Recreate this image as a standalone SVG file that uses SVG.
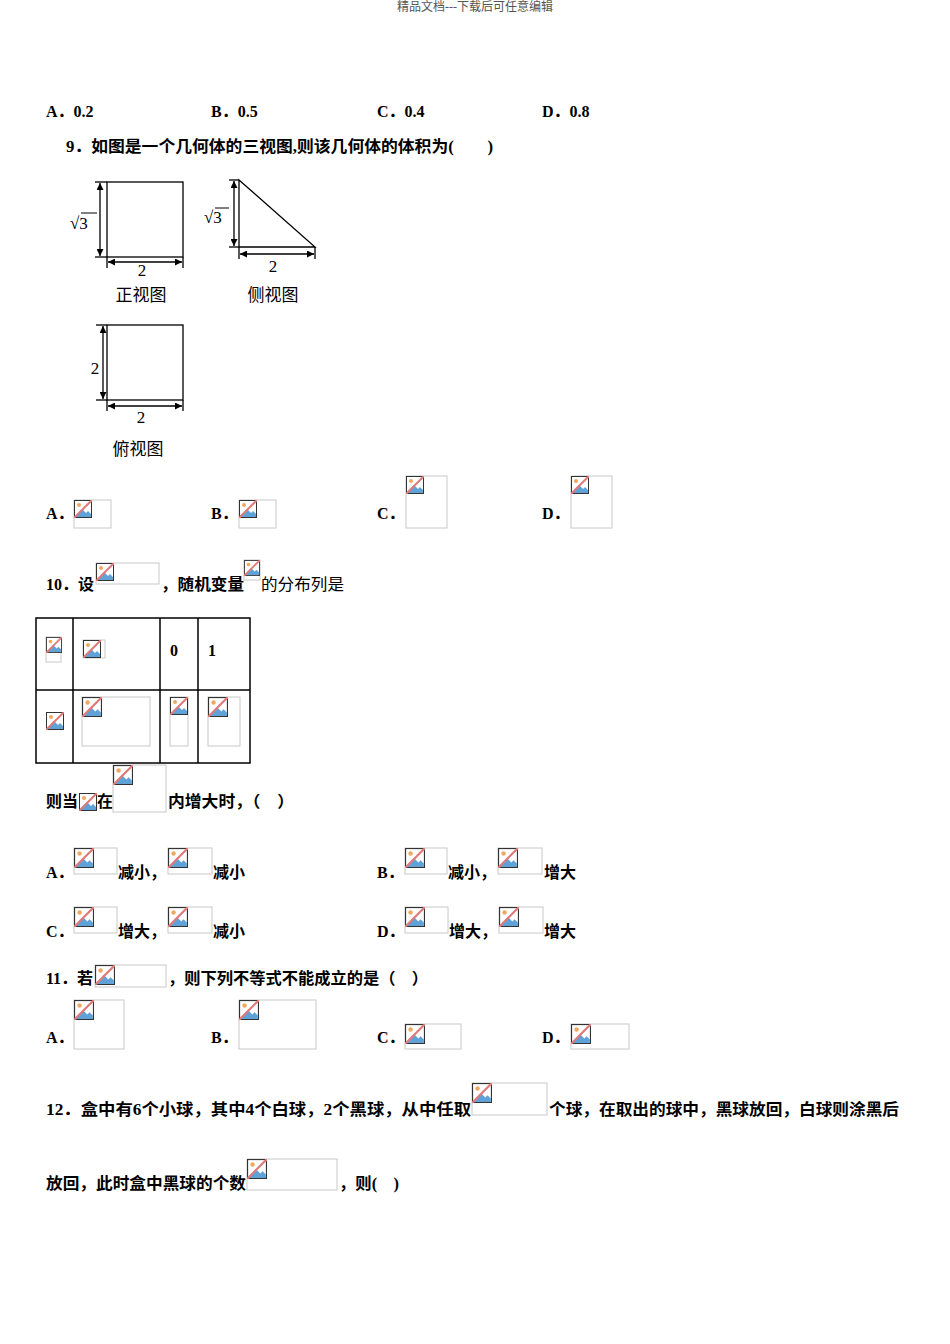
<svg xmlns="http://www.w3.org/2000/svg" xmlns:xlink="http://www.w3.org/1999/xlink" width="950" height="1344" viewBox="0 0 950 1344">
<style>
text{font-family:"Liberation Serif","Noto Sans CJK SC",serif;font-size:16px;fill:#000}
.b{font-weight:bold}
.fig{font-size:17px;font-family:"Noto Sans CJK SC","Liberation Sans",sans-serif}
.num{font-size:17px}
.ln{stroke:#000;stroke-width:1.3;fill:none}
.box{fill:#fff;stroke:#c8c8c8;stroke-width:1}
.tb{stroke:#000;stroke-width:1.5;fill:none}
</style>
<defs>
<marker id="ah" viewBox="0 0 10 10" refX="10" refY="5" markerWidth="7" markerHeight="7" orient="auto-start-reverse" markerUnits="userSpaceOnUse"><path d="M0,0L10,5L0,10z" fill="#000"/></marker>
<symbol id="ic" viewBox="0 0 18 18">
<rect x="0.5" y="0.5" width="17" height="17" fill="#fff" stroke="#333"/>
<polygon points="1,17 8,9 12,13 14,11 17,14 17,17" fill="#5fa2d8"/>
<circle cx="5" cy="5" r="2" fill="#f0a860"/>
<line x1="0" y1="18" x2="18" y2="0" stroke="#e07a7a" stroke-width="2"/>
</symbol>
</defs>
<rect width="950" height="1344" fill="#fff"/>
<text x="475" y="11" text-anchor="middle" style="font-size:12px;fill:#555">精品文档---下载后可任意编辑</text>

<text class="b" x="46" y="117">A．0.2</text>
<text class="b" x="211" y="117">B．0.5</text>
<text class="b" x="377" y="117">C．0.4</text>
<text class="b" x="542" y="117">D．0.8</text>
<text class="b" x="66" y="152" textLength="427" lengthAdjust="spacingAndGlyphs">9．如图是一个几何体的三视图,则该几何体的体积为(　　)</text>

<!-- front view -->
<rect class="ln" x="107" y="182" width="76" height="75"/>
<line class="ln" x1="95" y1="182" x2="107" y2="182"/><line class="ln" x1="95" y1="257" x2="107" y2="257"/>
<line class="ln" x1="100" y1="183" x2="100" y2="256" marker-start="url(#ah)" marker-end="url(#ah)"/>
<text class="num" x="70" y="229">√3</text><line x1="81" y1="213" x2="97" y2="213" stroke="#000"/>
<line class="ln" x1="107" y1="257" x2="107" y2="268"/><line class="ln" x1="183" y1="257" x2="183" y2="268"/>
<line class="ln" x1="108" y1="262" x2="182" y2="262" marker-start="url(#ah)" marker-end="url(#ah)"/>
<text class="num" x="142" y="276" text-anchor="middle">2</text>
<text class="fig" x="141" y="301" text-anchor="middle">正视图</text>

<!-- side view -->
<polygon class="ln" points="239,180 315,247 239,247"/>
<line class="ln" x1="229" y1="180" x2="239" y2="180"/><line class="ln" x1="229" y1="247" x2="239" y2="247"/>
<line class="ln" x1="234" y1="181" x2="234" y2="246" marker-start="url(#ah)" marker-end="url(#ah)"/>
<text class="num" x="204" y="223">√3</text><line x1="215" y1="208" x2="229" y2="208" stroke="#000"/>
<line class="ln" x1="239" y1="247" x2="239" y2="259"/><line class="ln" x1="315" y1="247" x2="315" y2="259"/>
<line class="ln" x1="240" y1="254" x2="314" y2="254" marker-start="url(#ah)" marker-end="url(#ah)"/>
<text class="num" x="273" y="272" text-anchor="middle">2</text>
<text class="fig" x="273" y="301" text-anchor="middle">侧视图</text>

<!-- top view -->
<rect class="ln" x="107" y="325" width="76" height="75"/>
<line class="ln" x1="96" y1="325" x2="107" y2="325"/><line class="ln" x1="96" y1="400" x2="107" y2="400"/>
<line class="ln" x1="103" y1="326" x2="103" y2="399" marker-start="url(#ah)" marker-end="url(#ah)"/>
<text class="num" x="95" y="374" text-anchor="middle">2</text>
<line class="ln" x1="107" y1="400" x2="107" y2="411"/><line class="ln" x1="183" y1="400" x2="183" y2="411"/>
<line class="ln" x1="108" y1="406" x2="182" y2="406" marker-start="url(#ah)" marker-end="url(#ah)"/>
<text class="num" x="141" y="423" text-anchor="middle">2</text>
<text class="fig" x="138" y="455" text-anchor="middle">俯视图</text>

<!-- options 9 -->
<text class="b" x="46" y="519">A．</text><rect class="box" x="74" y="500" width="37" height="28"/><use href="#ic" x="74" y="500" width="18" height="18"/>
<text class="b" x="211" y="519">B．</text><rect class="box" x="239" y="500" width="37" height="28"/><use href="#ic" x="239" y="500" width="18" height="18"/>
<text class="b" x="377" y="519">C．</text><rect class="box" x="406" y="476" width="41" height="52"/><use href="#ic" x="406" y="476" width="18" height="18"/>
<text class="b" x="542" y="519">D．</text><rect class="box" x="571" y="476" width="41" height="52"/><use href="#ic" x="571" y="476" width="18" height="18"/>

<!-- 10 -->
<text class="b" x="46" y="590">10．设</text><rect class="box" x="96" y="563" width="63" height="21"/><use href="#ic" x="96" y="563" width="18" height="18"/>
<text class="b" x="161" y="590" textLength="83" lengthAdjust="spacingAndGlyphs">，随机变量</text><rect class="box" x="244" y="560" width="16" height="20"/><use href="#ic" x="244" y="560" width="16" height="16"/>
<text x="261" y="590" textLength="83" lengthAdjust="spacingAndGlyphs">的分布列是</text>

<rect class="tb" x="36" y="618" width="214" height="145"/>
<line class="tb" x1="73" y1="618" x2="73" y2="763"/><line class="tb" x1="160" y1="618" x2="160" y2="763"/><line class="tb" x1="198" y1="618" x2="198" y2="763"/>
<line class="tb" x1="36" y1="690" x2="250" y2="690"/>
<rect class="box" x="46" y="637" width="15" height="25"/><use href="#ic" x="46" y="637" width="16" height="16"/>
<rect class="box" x="83" y="640" width="22" height="18"/><use href="#ic" x="83" y="640" width="18" height="18"/>
<text class="b" x="170" y="656">0</text><text class="b" x="208" y="656">1</text>
<use href="#ic" x="46" y="712" width="18" height="18"/>
<rect class="box" x="82" y="697" width="68" height="49"/><use href="#ic" x="82" y="697" width="20" height="20"/>
<rect class="box" x="170" y="697" width="18" height="49"/><use href="#ic" x="170" y="697" width="18" height="18"/>
<rect class="box" x="208" y="697" width="32" height="49"/><use href="#ic" x="208" y="697" width="20" height="20"/>

<text class="b" x="46" y="807">则当</text><use href="#ic" x="79" y="793" width="18" height="18"/>
<text class="b" x="97" y="807">在</text><rect class="box" x="113" y="765" width="53" height="47"/><use href="#ic" x="113" y="765" width="20" height="20"/>
<text class="b" x="168" y="807" textLength="126" lengthAdjust="spacingAndGlyphs">内增大时，（　）</text>

<text class="b" x="46" y="878">A．</text><rect class="box" x="74" y="848" width="43" height="26"/><use href="#ic" x="74" y="848" width="20" height="20"/>
<text class="b" x="118" y="878">减小，</text><rect class="box" x="168" y="848" width="44" height="26"/><use href="#ic" x="168" y="848" width="20" height="20"/>
<text class="b" x="213" y="878">减小</text>
<text class="b" x="377" y="878">B．</text><rect class="box" x="405" y="848" width="42" height="26"/><use href="#ic" x="405" y="848" width="20" height="20"/>
<text class="b" x="448" y="878">减小，</text><rect class="box" x="498" y="848" width="44" height="26"/><use href="#ic" x="498" y="848" width="20" height="20"/>
<text class="b" x="544" y="878">增大</text>

<text class="b" x="46" y="937">C．</text><rect class="box" x="74" y="907" width="43" height="26"/><use href="#ic" x="74" y="907" width="20" height="20"/>
<text class="b" x="118" y="937">增大，</text><rect class="box" x="168" y="907" width="44" height="26"/><use href="#ic" x="168" y="907" width="20" height="20"/>
<text class="b" x="213" y="937">减小</text>
<text class="b" x="377" y="937">D．</text><rect class="box" x="405" y="907" width="43" height="26"/><use href="#ic" x="405" y="907" width="20" height="20"/>
<text class="b" x="449" y="937">增大，</text><rect class="box" x="499" y="907" width="44" height="26"/><use href="#ic" x="499" y="907" width="20" height="20"/>
<text class="b" x="544" y="937">增大</text>

<!-- 11 -->
<text class="b" x="46" y="984">11．若</text><rect class="box" x="95" y="965" width="71" height="22"/><use href="#ic" x="95" y="965" width="20" height="20"/>
<text class="b" x="168" y="984" textLength="260" lengthAdjust="spacingAndGlyphs">，则下列不等式不能成立的是（　）</text>
<text class="b" x="46" y="1043">A．</text><rect class="box" x="74" y="1000" width="50" height="49"/><use href="#ic" x="74" y="1000" width="20" height="20"/>
<text class="b" x="211" y="1043">B．</text><rect class="box" x="239" y="1000" width="77" height="49"/><use href="#ic" x="239" y="1000" width="20" height="20"/>
<text class="b" x="377" y="1043">C．</text><rect class="box" x="405" y="1024" width="56" height="25"/><use href="#ic" x="405" y="1024" width="20" height="20"/>
<text class="b" x="542" y="1043">D．</text><rect class="box" x="571" y="1024" width="58" height="25"/><use href="#ic" x="571" y="1024" width="20" height="20"/>

<!-- 12 -->
<text class="b" x="46" y="1115" textLength="425" lengthAdjust="spacingAndGlyphs">12．盒中有6个小球，其中4个白球，2个黑球，从中任取</text>
<rect class="box" x="472" y="1083" width="75" height="32"/><use href="#ic" x="472" y="1083" width="20" height="20"/>
<text class="b" x="549" y="1115" textLength="350" lengthAdjust="spacingAndGlyphs">个球，在取出的球中，黑球放回，白球则涂黑后</text>
<text class="b" x="46" y="1189" textLength="200" lengthAdjust="spacingAndGlyphs">放回，此时盒中黑球的个数</text>
<rect class="box" x="247" y="1159" width="90" height="31"/><use href="#ic" x="247" y="1159" width="20" height="20"/>
<text class="b" x="339" y="1189" textLength="60" lengthAdjust="spacingAndGlyphs">，则(　)</text>
</svg>
